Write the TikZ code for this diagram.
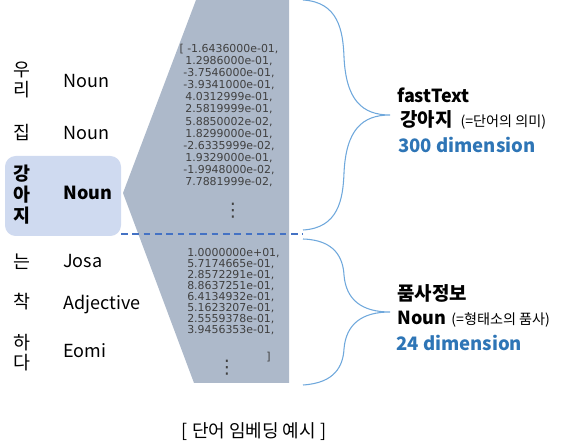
\documentclass[tikz,border=0pt]{standalone}
\usepackage{fontspec}
\setmainfont{Noto Sans CJK KR}
\newfontfamily\numfont{DejaVu Sans}
\newfontfamily\dotfont{DejaVu Sans}
\newcommand\smallnotefont{\mdseries\fontsize{10.6}{11}\selectfont}
\newcommand\bigkofont{\fontsize{14.2}{15}\selectfont}
\definecolor{grayfill}{HTML}{ADB9CA}
\definecolor{numgray}{HTML}{404040}
\definecolor{hlfill}{HTML}{CFDAF0}
\definecolor{dashblue}{HTML}{4472C4}
\definecolor{braceblue}{HTML}{6FA8DC}
\definecolor{dimblue}{HTML}{2E75B6}
\begin{document}
\begin{tikzpicture}[x=0.75pt,y=-0.75pt,
  word/.style={font=\fontsize{13.8}{15.4}\selectfont, inner sep=0, align=center},
  tag/.style={font=\fontsize{13.5}{15}\selectfont, inner sep=0, anchor=base west},
  nums/.style={font=\numfont\fontsize{8.2}{9.1}\selectfont, text=numgray, inner sep=0},
  brace/.style={draw=braceblue, line width=0.8pt},
  head/.style={font=\bfseries\fontsize{13.5}{14}\selectfont, anchor=base west, inner sep=0},
  dim/.style={font=\bfseries\fontsize{13.9}{14}\selectfont, text=dimblue, anchor=base west, inner sep=0},
  vdots/.style={font=\dotfont\fontsize{14}{14}\selectfont, text=numgray, inner sep=0}]
\useasboundingbox (0,0) rectangle (572,442);

% highlight box
\node[fill=hlfill, rounded corners=8pt, minimum width=116*0.75pt, minimum height=80*0.75pt, inner sep=0] (hl) at (63,196) {};

% gray embedding shape
\coordinate (tip) at (123,193);
\coordinate (gtl) at (196,0);
\coordinate (gtr) at (289,0);
\coordinate (gbr) at (289,383);
\coordinate (gbl) at (194,383);
\fill[grayfill] (tip) -- (gtl) -- (gtr) -- (gbr) -- (gbl) -- cycle;

% dashed separator
\coordinate (dsL) at (121,234);
\coordinate (dsR) at (303,234);
\draw[dashblue, line width=1.1pt, dash pattern=on 5pt off 3.5pt] (dsL) -- (dsR);

% left words
\node[word] (w1) at (22,80) {우\\리};
\node[word] (w2) at (22,132.5) {집};
\node[word, font=\bfseries\fontsize{13.8}{15.8}\selectfont] (w3) at (22,195) {강\\아\\지};
\node[word] (w4) at (22,261.5) {는};
\node[word] (w5) at (22,302) {착};
\node[word] (w6) at (22,352.5) {하\\다};

\node[tag] (t1) at (63,88) {Noun};
\node[tag] (t2) at (63,140) {Noun};
\node[tag, font=\bfseries\fontsize{13.5}{15}\selectfont] (t3) at (63,200) {Noun};
\node[tag] (t4) at (63,268) {Josa};
\node[tag] (t5) at (63,310) {Adjective};
\node[tag] (t6) at (63,358) {Eomi};

% numbers
\node[nums, align=center] (v1) at (229,115.5) {[ -1.6436000e-01,\\1.2986000e-01,\\-3.7546000e-01,\\-3.9341000e-01,\\4.0312999e-01,\\2.5819999e-01,\\5.8850002e-02,\\1.8299000e-01,\\-2.6335999e-02,\\1.9329000e-01,\\-1.9948000e-02,\\7.7881999e-02,};
\node[vdots] (d1) at (233,211) {⋮};
\node[nums, align=left, anchor=west, font=\numfont\fontsize{8.2}{8.25}\selectfont] (v2) at (187,291.5) {1.0000000e+01,\\5.7174665e-01,\\2.8572291e-01,\\8.8637251e-01,\\6.4134932e-01,\\5.1623207e-01,\\2.5559378e-01,\\3.9456353e-01,};
\node[nums, anchor=east] (rb) at (271,357) {]};
\node[vdots] (d2) at (227,368) {⋮};

% braces
\coordinate (b1t) at (303,0);
\coordinate (b1p) at (390,115);
\coordinate (b1b) at (303,230);
\draw[brace] (b1t) .. controls (338,2) and (343,30) .. (344,57)
  .. controls (346,100) and (362,115) .. (b1p)
  .. controls (362,115) and (346,130) .. (344,173)
  .. controls (343,200) and (338,228) .. (b1b);
\coordinate (b2t) at (303,239);
\coordinate (b2p) at (390,312);
\coordinate (b2b) at (303,385);
\draw[brace] (b2t) .. controls (335,240) and (343,258) .. (344,275)
  .. controls (346,300) and (362,312) .. (b2p)
  .. controls (362,312) and (346,324) .. (344,349)
  .. controls (343,366) and (335,383) .. (b2b);

% right texts
\node[head] (r1) at (397,103) {fastText};
\node[head] (r2) at (400,127) {{\bigkofont 강아지}\hspace{6pt}{\smallnotefont (=단어의 의미)}};
\node[dim] (r3) at (398,153) {300 dimension};
\node[head] (r4) at (397,301) {{\bigkofont 품사정보}};
\node[head] (r5) at (397,325) {Noun\hspace{4pt}{\smallnotefont (=형태소의 품사)}};
\node[dim] (r6) at (396,350) {24 dimension};

% caption
\node[font=\fontsize{13.5}{14}\selectfont, inner sep=0] (cap) at (254,432) {[ 단어 임베딩 예시 ]};
\end{tikzpicture}
\end{document}
